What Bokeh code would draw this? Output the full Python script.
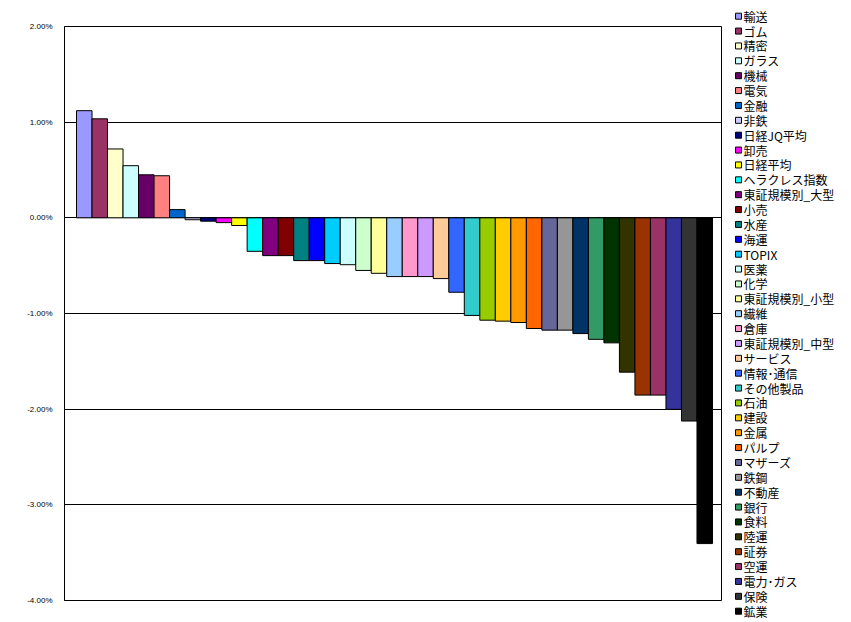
from bokeh.plotting import figure
from bokeh.layouts import row
from bokeh.core.properties import value
from bokeh.models import ColumnDataSource, FixedTicker, PrintfTickFormatter, Range1d
from bokeh.embed import file_html
from bokeh.resources import INLINE

categories = ["輸送", "ゴム", "精密", "ガラス", "機械", "電気", "金融", "非鉄", "日経JQ平均", "卸売",
              "日経平均", "ヘラクレス指数", "東証規模別_大型", "小売", "水産", "海運", "TOPIX", "医薬", "化学",
              "東証規模別_小型", "繊維", "倉庫", "東証規模別_中型", "サービス", "情報･通信", "その他製品", "石油",
              "建設", "金属", "パルプ", "マザーズ", "鉄鋼", "不動産", "銀行", "食料", "陸運", "証券", "空運",
              "電力･ガス", "保険", "鉱業"]
values = [1.12, 1.035, 0.72, 0.545, 0.45, 0.44, 0.086, -0.02, -0.035, -0.05,
          -0.08, -0.35, -0.395, -0.395, -0.447, -0.447, -0.478, -0.49, -0.55,
          -0.58, -0.614, -0.614, -0.614, -0.635, -0.778, -1.02, -1.07,
          -1.08, -1.094, -1.157, -1.174, -1.174, -1.21, -1.27, -1.307, -1.613, -1.853, -1.853,
          -2.002, -2.124, -3.405]
colors = ["#9999FF", "#993366", "#FFFFCC", "#CCFFFF", "#660066", "#FF8080", "#0066CC", "#CCCCFF", "#000080", "#FF00FF",
          "#FFFF00", "#00FFFF", "#800080", "#800000", "#008080", "#0000FF", "#00CCFF", "#CCFFFF", "#CCFFCC",
          "#FFFF99", "#99CCFF", "#FF99CC", "#CC99FF", "#FFCC99", "#3366FF", "#33CCCC", "#99CC00",
          "#FFCC00", "#FF9900", "#FF6600", "#666699", "#969696", "#003366", "#339966", "#003300", "#333300", "#993300", "#993366",
          "#333399", "#333333", "#000000"]
y_ticks = [-4, -3, -2, -1, 0, 1, 2]

n = len(categories)
idx = list(range(n))

# ---- main bar chart ----
p = figure(width=722, height=622, output_backend="svg", toolbar_location=None,
           x_range=Range1d(-1.274, 41.145), y_range=Range1d(-4, 2),
           min_border_left=64, min_border_top=26, min_border_right=0, min_border_bottom=22)
p.background_fill_color = "white"
p.outline_line_color = "black"
p.outline_line_width = 1

src = ColumnDataSource(dict(x=idx, top=values, bottom=[0] * n, color=colors, label=categories))
p.vbar(x="x", top="top", bottom="bottom", width=1.0, source=src,
       fill_color="color", line_color="black", line_width=1)

p.xaxis.visible = False
p.xgrid.visible = False
p.ygrid.grid_line_color = "black"
p.ygrid.grid_line_width = 1
p.ygrid.ticker = FixedTicker(ticks=y_ticks)
p.yaxis.ticker = FixedTicker(ticks=y_ticks)
p.yaxis.formatter = PrintfTickFormatter(format="%.2f%%")
p.yaxis.major_tick_in = 0
p.yaxis.major_tick_out = 0
p.yaxis.minor_tick_line_color = None
p.yaxis.axis_line_color = "black"
p.yaxis.major_label_standoff = 12
p.yaxis.major_label_text_font = "Liberation Sans"
p.yaxis.major_label_text_font_size = "8px"
p.yaxis.major_label_text_color = "black"

# ---- legend panel (one entry per category, laid out by index) ----
step = 14.875      # px between legend entries
first = 15.7       # px from top of page to first entry
lg = figure(width=129, height=622, output_backend="svg", toolbar_location=None,
            x_range=Range1d(0, 129), y_range=Range1d((600 - first) / step, (26 - first) / step),
            min_border_left=0, min_border_top=26, min_border_right=0, min_border_bottom=22)
lg.outline_line_color = None
lg.axis.visible = False
lg.grid.visible = False

lsrc = ColumnDataSource(dict(y=idx, color=colors, label=categories,
                             sx=[16] * n, tx=[21] * n))
lg.rect(x="sx", y="y", width=6, height=6, width_units="screen", height_units="screen",
        source=lsrc, fill_color="color", line_color="black", line_width=1, level="overlay")
lg.text(x="tx", y="y", text="label", source=lsrc, text_baseline="middle", text_align="left",
        text_font=value("Noto Sans CJK JP"), text_font_size="12px", text_color="black",
        level="overlay")

layout = row(p, lg, spacing=0)
open("out.html", "w").write(file_html(layout, INLINE))
